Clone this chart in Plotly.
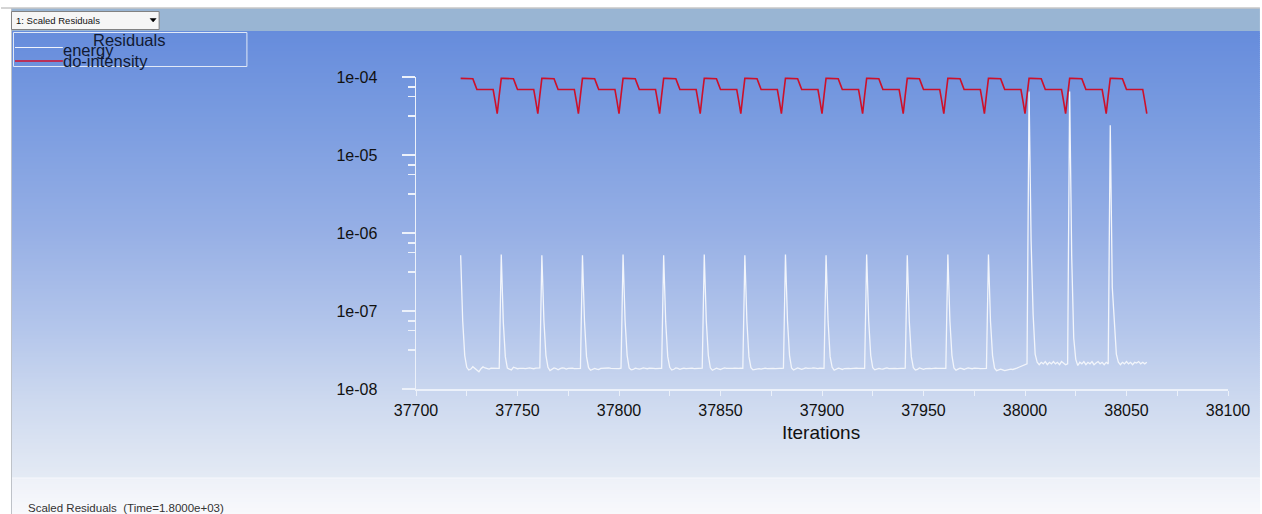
import plotly.graph_objects as go

# ---------------- data ----------------
iter_start = 37722          # first plotted iteration

# energy residual, one value per iteration (rows = time steps of 20 iterations)
energy = [
    5.2e-7, 7.5e-8, 2.7e-8, 1.9e-8, 1.75e-8, 1.8e-8, 1.93e-8, 1.84e-8, 1.78e-8, 1.66e-8, 1.82e-8, 1.92e-8, 1.86e-8, 1.84e-8, 1.8e-8, 1.85e-8, 1.84e-8, 1.83e-8, 1.84e-8, 1.84e-8,
    5.3e-7, 7.2e-8, 2.6e-8, 1.85e-8, 1.8e-8, 1.76e-8, 1.9e-8, 1.85e-8, 1.82e-8, 1.84e-8, 1.86e-8, 1.84e-8, 1.83e-8, 1.85e-8, 1.86e-8, 1.84e-8, 1.82e-8, 1.85e-8, 1.84e-8, 1.86e-8,
    5.2e-7, 7.6e-8, 2.7e-8, 1.9e-8, 1.72e-8, 1.78e-8, 1.86e-8, 1.83e-8, 1.76e-8, 1.82e-8, 1.86e-8, 1.85e-8, 1.8e-8, 1.84e-8, 1.86e-8, 1.85e-8, 1.83e-8, 1.84e-8, 1.85e-8, 1.84e-8,
    5.2e-7, 7.4e-8, 2.6e-8, 1.88e-8, 1.74e-8, 1.8e-8, 1.84e-8, 1.8e-8, 1.78e-8, 1.84e-8, 1.85e-8, 1.82e-8, 1.84e-8, 1.86e-8, 1.84e-8, 1.83e-8, 1.85e-8, 1.84e-8, 1.83e-8, 1.85e-8,
    5.3e-7, 7.5e-8, 2.7e-8, 1.86e-8, 1.76e-8, 1.78e-8, 1.85e-8, 1.82e-8, 1.8e-8, 1.83e-8, 1.86e-8, 1.84e-8, 1.82e-8, 1.85e-8, 1.86e-8, 1.84e-8, 1.83e-8, 1.85e-8, 1.84e-8, 1.84e-8,
    5.2e-7, 7.3e-8, 2.6e-8, 1.9e-8, 1.75e-8, 1.79e-8, 1.86e-8, 1.84e-8, 1.79e-8, 1.82e-8, 1.85e-8, 1.83e-8, 1.84e-8, 1.86e-8, 1.85e-8, 1.83e-8, 1.84e-8, 1.85e-8, 1.84e-8, 1.85e-8,
    5.3e-7, 7.5e-8, 2.7e-8, 1.87e-8, 1.74e-8, 1.8e-8, 1.85e-8, 1.81e-8, 1.78e-8, 1.83e-8, 1.86e-8, 1.84e-8, 1.83e-8, 1.85e-8, 1.84e-8, 1.85e-8, 1.83e-8, 1.84e-8, 1.85e-8, 1.84e-8,
    5.2e-7, 7.4e-8, 2.6e-8, 1.88e-8, 1.76e-8, 1.78e-8, 1.84e-8, 1.82e-8, 1.8e-8, 1.84e-8, 1.85e-8, 1.83e-8, 1.84e-8, 1.86e-8, 1.84e-8, 1.83e-8, 1.85e-8, 1.84e-8, 1.84e-8, 1.85e-8,
    5.3e-7, 7.5e-8, 2.7e-8, 1.86e-8, 1.75e-8, 1.8e-8, 1.86e-8, 1.83e-8, 1.79e-8, 1.82e-8, 1.86e-8, 1.84e-8, 1.83e-8, 1.85e-8, 1.86e-8, 1.84e-8, 1.83e-8, 1.85e-8, 1.84e-8, 1.84e-8,
    5.2e-7, 7.3e-8, 2.6e-8, 1.9e-8, 1.74e-8, 1.79e-8, 1.85e-8, 1.82e-8, 1.78e-8, 1.83e-8, 1.85e-8, 1.84e-8, 1.82e-8, 1.84e-8, 1.86e-8, 1.85e-8, 1.84e-8, 1.83e-8, 1.85e-8, 1.84e-8,
    5.3e-7, 7.5e-8, 2.7e-8, 1.87e-8, 1.76e-8, 1.8e-8, 1.84e-8, 1.81e-8, 1.8e-8, 1.84e-8, 1.86e-8, 1.83e-8, 1.84e-8, 1.85e-8, 1.84e-8, 1.83e-8, 1.85e-8, 1.84e-8, 1.84e-8, 1.85e-8,
    5.2e-7, 7.4e-8, 2.6e-8, 1.88e-8, 1.75e-8, 1.78e-8, 1.86e-8, 1.83e-8, 1.79e-8, 1.82e-8, 1.85e-8, 1.84e-8, 1.83e-8, 1.86e-8, 1.85e-8, 1.84e-8, 1.83e-8, 1.85e-8, 1.84e-8, 1.84e-8,
    5.3e-7, 7.5e-8, 2.7e-8, 1.86e-8, 1.74e-8, 1.8e-8, 1.85e-8, 1.82e-8, 1.78e-8, 1.83e-8, 1.86e-8, 1.84e-8, 1.82e-8, 1.85e-8, 1.86e-8, 1.84e-8, 1.83e-8, 1.84e-8, 1.85e-8, 1.84e-8,
    5.3e-7, 7.4e-8, 2.7e-8, 1.85e-8, 1.72e-8, 1.74e-8, 1.8e-8, 1.76e-8, 1.72e-8, 1.75e-8, 1.78e-8, 1.8e-8, 1.78e-8, 1.8e-8, 1.85e-8, 1.9e-8, 1.95e-8, 2.0e-8, 2.05e-8, 2.1e-8,
    6.5e-5, 8.0e-7, 9.0e-8, 2.8e-8, 2.2e-8, 2.05e-8, 2.2e-8, 2.1e-8, 2.25e-8, 2.05e-8, 2.2e-8, 2.1e-8, 2.25e-8, 2.1e-8, 2.2e-8, 2.05e-8, 2.25e-8, 2.15e-8, 2.05e-8, 2.1e-8,
    6.5e-5, 5.0e-7, 4.5e-8, 2.4e-8, 2.0e-8, 2.2e-8, 2.1e-8, 2.25e-8, 2.05e-8, 2.2e-8, 2.1e-8, 2.25e-8, 2.05e-8, 2.15e-8, 2.25e-8, 2.1e-8, 2.2e-8, 2.05e-8, 2.2e-8, 2.1e-8,
    2.4e-5, 2.0e-7, 6.0e-8, 2.8e-8, 2.2e-8, 2.05e-8, 2.2e-8, 2.1e-8, 2.25e-8, 2.1e-8, 2.2e-8, 2.05e-8, 2.2e-8, 2.15e-8, 2.25e-8, 2.1e-8, 2.2e-8, 2.1e-8, 2.2e-8,
]

# do-intensity residual, one value per iteration
do_intensity = [
    9.6e-5, 9.6e-5, 9.6e-5, 9.6e-5, 9.6e-5, 9.6e-5, 9.5e-5, 8.1e-5, 6.9e-5, 6.9e-5, 6.9e-5, 6.9e-5, 6.9e-5, 6.9e-5, 6.9e-5, 6.9e-5, 6.9e-5, 4.9e-5, 3.4e-5, 5.8e-5,
    9.6e-5, 9.6e-5, 9.6e-5, 9.6e-5, 9.6e-5, 9.6e-5, 9.5e-5, 8.1e-5, 6.9e-5, 6.9e-5, 6.9e-5, 6.9e-5, 6.9e-5, 6.9e-5, 6.9e-5, 6.9e-5, 6.9e-5, 4.9e-5, 3.4e-5, 5.8e-5,
    9.6e-5, 9.6e-5, 9.6e-5, 9.6e-5, 9.6e-5, 9.6e-5, 9.5e-5, 8.1e-5, 6.9e-5, 6.9e-5, 6.9e-5, 6.9e-5, 6.9e-5, 6.9e-5, 6.9e-5, 6.9e-5, 6.9e-5, 4.9e-5, 3.4e-5, 5.8e-5,
    9.6e-5, 9.6e-5, 9.6e-5, 9.6e-5, 9.6e-5, 9.6e-5, 9.5e-5, 8.1e-5, 6.9e-5, 6.9e-5, 6.9e-5, 6.9e-5, 6.9e-5, 6.9e-5, 6.9e-5, 6.9e-5, 6.9e-5, 4.9e-5, 3.4e-5, 5.8e-5,
    9.6e-5, 9.6e-5, 9.6e-5, 9.6e-5, 9.6e-5, 9.6e-5, 9.5e-5, 8.1e-5, 6.9e-5, 6.9e-5, 6.9e-5, 6.9e-5, 6.9e-5, 6.9e-5, 6.9e-5, 6.9e-5, 6.9e-5, 4.9e-5, 3.4e-5, 5.8e-5,
    9.6e-5, 9.6e-5, 9.6e-5, 9.6e-5, 9.6e-5, 9.6e-5, 9.5e-5, 8.1e-5, 6.9e-5, 6.9e-5, 6.9e-5, 6.9e-5, 6.9e-5, 6.9e-5, 6.9e-5, 6.9e-5, 6.9e-5, 4.9e-5, 3.4e-5, 5.8e-5,
    9.6e-5, 9.6e-5, 9.6e-5, 9.6e-5, 9.6e-5, 9.6e-5, 9.5e-5, 8.1e-5, 6.9e-5, 6.9e-5, 6.9e-5, 6.9e-5, 6.9e-5, 6.9e-5, 6.9e-5, 6.9e-5, 6.9e-5, 4.9e-5, 3.4e-5, 5.8e-5,
    9.6e-5, 9.6e-5, 9.6e-5, 9.6e-5, 9.6e-5, 9.6e-5, 9.5e-5, 8.1e-5, 6.9e-5, 6.9e-5, 6.9e-5, 6.9e-5, 6.9e-5, 6.9e-5, 6.9e-5, 6.9e-5, 6.9e-5, 4.9e-5, 3.4e-5, 5.8e-5,
    9.6e-5, 9.6e-5, 9.6e-5, 9.6e-5, 9.6e-5, 9.6e-5, 9.5e-5, 8.1e-5, 6.9e-5, 6.9e-5, 6.9e-5, 6.9e-5, 6.9e-5, 6.9e-5, 6.9e-5, 6.9e-5, 6.9e-5, 4.9e-5, 3.4e-5, 5.8e-5,
    9.6e-5, 9.6e-5, 9.6e-5, 9.6e-5, 9.6e-5, 9.6e-5, 9.5e-5, 8.1e-5, 6.9e-5, 6.9e-5, 6.9e-5, 6.9e-5, 6.9e-5, 6.9e-5, 6.9e-5, 6.9e-5, 6.9e-5, 4.9e-5, 3.4e-5, 5.8e-5,
    9.6e-5, 9.6e-5, 9.6e-5, 9.6e-5, 9.6e-5, 9.6e-5, 9.5e-5, 8.1e-5, 6.9e-5, 6.9e-5, 6.9e-5, 6.9e-5, 6.9e-5, 6.9e-5, 6.9e-5, 6.9e-5, 6.9e-5, 4.9e-5, 3.4e-5, 5.8e-5,
    9.6e-5, 9.6e-5, 9.6e-5, 9.6e-5, 9.6e-5, 9.6e-5, 9.5e-5, 8.1e-5, 6.9e-5, 6.9e-5, 6.9e-5, 6.9e-5, 6.9e-5, 6.9e-5, 6.9e-5, 6.9e-5, 6.9e-5, 4.9e-5, 3.4e-5, 5.8e-5,
    9.6e-5, 9.6e-5, 9.6e-5, 9.6e-5, 9.6e-5, 9.6e-5, 9.5e-5, 8.1e-5, 6.9e-5, 6.9e-5, 6.9e-5, 6.9e-5, 6.9e-5, 6.9e-5, 6.9e-5, 6.9e-5, 6.9e-5, 4.9e-5, 3.4e-5, 5.8e-5,
    9.6e-5, 9.6e-5, 9.6e-5, 9.6e-5, 9.6e-5, 9.6e-5, 9.5e-5, 8.1e-5, 6.9e-5, 6.9e-5, 6.9e-5, 6.9e-5, 6.9e-5, 6.9e-5, 6.9e-5, 6.9e-5, 6.9e-5, 4.9e-5, 3.4e-5, 5.8e-5,
    9.6e-5, 9.6e-5, 9.6e-5, 9.6e-5, 9.6e-5, 9.6e-5, 9.5e-5, 8.1e-5, 6.9e-5, 6.9e-5, 6.9e-5, 6.9e-5, 6.9e-5, 6.9e-5, 6.9e-5, 6.9e-5, 6.9e-5, 4.9e-5, 3.4e-5, 5.8e-5,
    9.6e-5, 9.6e-5, 9.6e-5, 9.6e-5, 9.6e-5, 9.6e-5, 9.5e-5, 8.1e-5, 6.9e-5, 6.9e-5, 6.9e-5, 6.9e-5, 6.9e-5, 6.9e-5, 6.9e-5, 6.9e-5, 6.9e-5, 4.9e-5, 3.4e-5, 5.8e-5,
    9.6e-5, 9.6e-5, 9.6e-5, 9.6e-5, 9.6e-5, 9.6e-5, 9.5e-5, 8.1e-5, 6.9e-5, 6.9e-5, 6.9e-5, 6.9e-5, 6.9e-5, 6.9e-5, 6.9e-5, 6.9e-5, 6.9e-5, 4.9e-5, 3.4e-5,
]

x_tick_vals = [37700, 37750, 37800, 37850, 37900, 37950, 38000, 38050, 38100]
y_tick_vals = [1e-8, 1e-7, 1e-6, 1e-5, 1e-4]
y_tick_text = ["1e-08", "1e-07", "1e-06", "1e-05", "1e-04"]
series_names = ["energy", "do-intensity"]

iterations = list(range(iter_start, iter_start + len(energy)))

# ---------------- geometry helpers (pixel -> paper) ----------------
W, H = 1262, 514
PL, PR, PT, PB = 416, 1230, 77, 389


def X(px):
    return (px - PL) / (PR - PL)


def Y(py):
    return (PB - py) / (PB - PT)


def lerp_color(stops, py):
    for (y0, c0), (y1, c1) in zip(stops, stops[1:]):
        if y0 <= py <= y1:
            t = (py - y0) / (y1 - y0)
            return "rgb(%d,%d,%d)" % tuple(round(a + (b - a) * t) for a, b in zip(c0, c1))
    return "rgb(%d,%d,%d)" % stops[-1][1]


grad_stops = [
    (31, (102, 140, 220)),
    (120, (122, 156, 224)),
    (230, (150, 175, 229)),
    (330, (180, 198, 235)),
    (400, (205, 217, 239)),
    (478, (228, 234, 244)),
]
panel_stops = [(478, (238, 241, 248)), (514, (248, 249, 252))]

shapes = []
py = 31
while py < 478:
    shapes.append(dict(type="rect", xref="paper", yref="paper", layer="below",
                       x0=X(11), x1=X(W), y0=Y(py), y1=Y(min(py + 3, 478)),
                       fillcolor=lerp_color(grad_stops, py + 1), line=dict(width=0)))
    py += 2
py = 478
while py < 514:
    shapes.append(dict(type="rect", xref="paper", yref="paper", layer="below",
                       x0=X(11), x1=X(W), y0=Y(py), y1=Y(min(py + 3, 514)),
                       fillcolor=lerp_color(panel_stops, py + 1), line=dict(width=0)))
    py += 2
shapes.append(dict(type="line", xref="paper", yref="paper", layer="below",
                   x0=X(11), x1=X(W), y0=Y(478), y1=Y(478),
                   line=dict(color="rgb(246,248,252)", width=1)))
# top title bar
shapes.append(dict(type="rect", xref="paper", yref="paper", layer="below",
                   x0=X(10), x1=X(W), y0=Y(8.5), y1=Y(31),
                   fillcolor="rgb(153,181,211)", line=dict(width=0)))
shapes.append(dict(type="line", xref="paper", yref="paper", layer="below",
                   x0=X(0), x1=X(W), y0=Y(8), y1=Y(8),
                   line=dict(color="rgb(170,170,170)", width=1)))
# left border
shapes.append(dict(type="line", xref="paper", yref="paper", layer="below",
                   x0=X(10.5), x1=X(10.5), y0=Y(8), y1=Y(514),
                   line=dict(color="rgb(190,194,200)", width=1)))
# dropdown
shapes.append(dict(type="rect", xref="paper", yref="paper", layer="above",
                   x0=X(10.5), x1=X(158.5), y0=Y(11.5), y1=Y(29.5),
                   fillcolor="rgb(246,246,246)", line=dict(color="rgb(130,130,130)", width=1)))
shapes.append(dict(type="path", xref="paper", yref="paper", layer="above",
                   path="M %f %f L %f %f L %f %f Z" % (X(149.5), Y(18.5), X(155.5), Y(18.5), X(152.5), Y(22)),
                   fillcolor="black", line=dict(color="black", width=0.5)))
# legend box
shapes.append(dict(type="rect", xref="paper", yref="paper", layer="above",
                   x0=X(12.5), x1=X(246.5), y0=Y(32.5), y1=Y(66.5),
                   fillcolor="rgba(0,0,0,0)", line=dict(color="rgb(225,233,247)", width=1)))
shapes.append(dict(type="line", xref="paper", yref="paper", layer="above",
                   x0=X(14), x1=X(62), y0=Y(47.5), y1=Y(47.5),
                   line=dict(color="rgb(240,244,252)", width=1.2)))
shapes.append(dict(type="line", xref="paper", yref="paper", layer="above",
                   x0=X(14), x1=X(62), y0=Y(61), y1=Y(61),
                   line=dict(color="rgb(210,16,44)", width=1.4)))

FONT = "Liberation Sans, Arial, sans-serif"
annotations = [
    dict(text="1: Scaled Residuals", x=X(13), y=Y(20.5), xanchor="left", yanchor="middle",
         font=dict(family=FONT, size=9.5, color="#111"), showarrow=False),
    dict(text="Residuals", x=X(128.5), y=Y(40), xanchor="center", yanchor="middle",
         font=dict(family=FONT, size=16.5, color="#111a33"), showarrow=False),
    dict(text=series_names[0], x=X(60), y=Y(49.5), xanchor="left", yanchor="middle",
         font=dict(family=FONT, size=16.5, color="#111a33"), showarrow=False),
    dict(text=series_names[1], x=X(60), y=Y(61.5), xanchor="left", yanchor="middle",
         font=dict(family=FONT, size=16.5, color="#111a33"), showarrow=False),
    dict(text="Iterations", x=X(822), y=Y(432), xanchor="center", yanchor="middle",
         font=dict(family=FONT, size=19, color="#111"), showarrow=False),
    dict(text="Scaled Residuals  (Time=1.8000e+03)", x=X(25), y=Y(508), xanchor="left", yanchor="middle",
         font=dict(family=FONT, size=11.5, color="#333"), showarrow=False),
]
for a in annotations:
    a["xref"] = "paper"
    a["yref"] = "paper"

fig = go.Figure()
fig.add_trace(go.Scatter(x=iterations, y=energy, mode="lines", name=series_names[0],
                         line=dict(color="rgb(242,245,251)", width=1.3)))
fig.add_trace(go.Scatter(x=iterations, y=do_intensity, mode="lines", name=series_names[1],
                         line=dict(color="rgb(205,16,42)", width=1.6)))

# minor y ticks at 1/8, 1/4, 1/2 decade below each major
y_minor = []
for d in [1e-4, 1e-5, 1e-6, 1e-7]:
    for f in [10 ** -0.125, 10 ** -0.25, 10 ** -0.5]:
        y_minor.append(d * f)

axis_col = "rgb(236,241,250)"
fig.update_layout(
    width=W, height=H, autosize=False,
    margin=dict(l=PL, r=W - PR, t=PT, b=H - PB, pad=0),
    paper_bgcolor="white", plot_bgcolor="rgba(0,0,0,0)",
    showlegend=False,
    shapes=shapes, annotations=annotations,
    xaxis=dict(range=[37700, 38100], showgrid=False, zeroline=False,
               showline=True, linecolor=axis_col, linewidth=1.5,
               ticks="outside", ticklen=5, tickwidth=1, tickcolor=axis_col,
               tickmode="array", tickvals=x_tick_vals, ticktext=[str(v) for v in x_tick_vals],
               tickfont=dict(family=FONT, size=16, color="#111"),
               ticklabelstandoff=1,
               minor=dict(tickmode="array", tickvals=[v + 25 for v in x_tick_vals[:-1]],
                          ticks="outside", ticklen=5, tickwidth=1, tickcolor=axis_col)),
    yaxis=dict(type="log", range=[-8, -4], showgrid=False, zeroline=False,
               showline=True, linecolor=axis_col, linewidth=1.5,
               ticks="outside", ticklen=13, tickwidth=1.5, tickcolor=axis_col,
               tickmode="array", tickvals=y_tick_vals, ticktext=y_tick_text,
               tickfont=dict(family=FONT, size=16, color="#111"),
               ticklabelstandoff=21,
               minor=dict(tickmode="array", tickvals=y_minor,
                          ticks="outside", ticklen=7, tickwidth=1.5, tickcolor=axis_col)),
)

fig.write_html(
    "out.html",
    config={"displayModeBar": False, "staticPlot": True},
    post_script="document.body.style.margin='0';document.body.style.overflow='hidden';"
                "document.documentElement.style.overflow='hidden';",
)
